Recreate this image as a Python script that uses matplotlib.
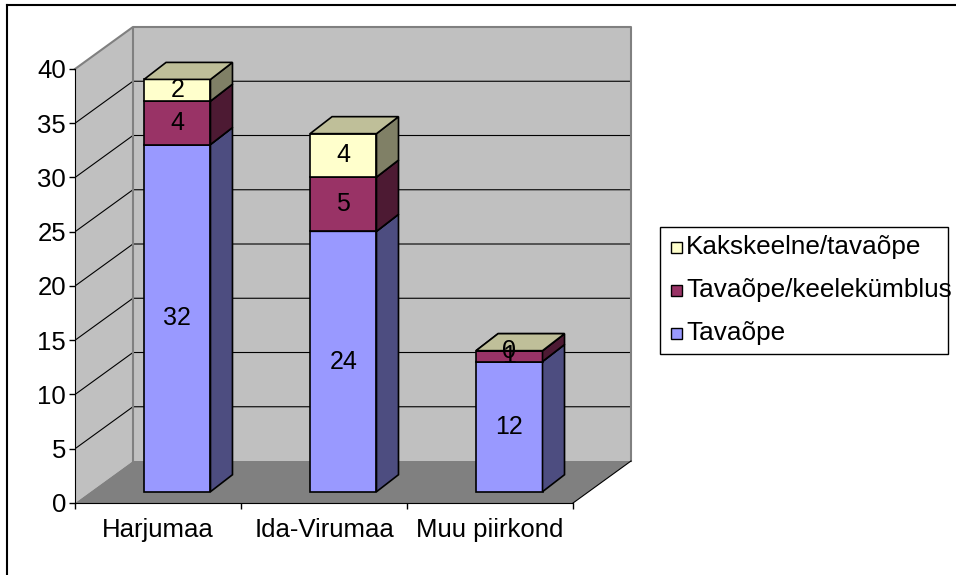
import matplotlib
matplotlib.use("Agg")
import matplotlib.pyplot as plt
from matplotlib.patches import Polygon, Rectangle
from matplotlib.lines import Line2D
from matplotlib.colors import to_rgb

plt.rcParams['font.family'] = ['Liberation Sans', 'DejaVu Sans']

categories = ["Harjumaa", "Ida-Virumaa", "Muu piirkond"]
series_names = ["Tavaõpe", "Tavaõpe/keelekümblus", "Kakskeelne/tavaõpe"]
tavaope = [32, 24, 12]
keelekymblus = [4, 5, 1]
kakskeelne = [2, 4, 0]
y_ticks = [0, 5, 10, 15, 20, 25, 30, 35, 40]

front_colors = ["#9999FF", "#993366", "#FFFFCC"]

W, H = 956, 575
fig = plt.figure(figsize=(W / 100, H / 100), dpi=100)


def fx(x):
    return x / W


def fy(y):
    return 1 - y / H


def shade(c, k):
    return tuple(v * k for v in to_rgb(c))


# plot box in pixels (front y-axis .. back right wall edge)
left_px, right_px, top_px, bottom_px = 75, 631, 27, 503
ax = fig.add_axes([fx(left_px), fy(bottom_px),
                   (right_px - left_px) / W, (bottom_px - top_px) / H])

ymax = y_ticks[-1]
ncat = len(categories)
wall_dx, wall_dy = 0.349, 3.87
ax.set_xlim(0, ncat + wall_dx)
ax.set_ylim(0, ymax + wall_dy)
ax.patch.set_visible(False)

wall_grey = "#C0C0C0"
edge_grey = "#808080"
# side wall, back wall, floor
ax.add_patch(Polygon([(0, 0), (wall_dx, wall_dy), (wall_dx, ymax + wall_dy), (0, ymax)],
                     fc=wall_grey, ec='none', zorder=0))
ax.add_patch(Rectangle((wall_dx, wall_dy), ncat, ymax, fc=wall_grey, ec='none', zorder=0))
ax.add_patch(Polygon([(0, 0), (ncat, 0), (ncat + wall_dx, wall_dy), (wall_dx, wall_dy)],
                     fc="#808080", ec='none', zorder=0))

for v in y_ticks[1:-1]:
    ax.plot([0, wall_dx, ncat + wall_dx], [v, v + wall_dy, v + wall_dy],
            color='black', lw=0.8, zorder=1)
ax.plot([0, wall_dx, ncat + wall_dx, ncat + wall_dx],
        [ymax, ymax + wall_dy, ymax + wall_dy, wall_dy],
        color=edge_grey, lw=1.5, zorder=1, clip_on=False)
ax.plot([wall_dx, wall_dx], [wall_dy, ymax + wall_dy], color=edge_grey, lw=1.5, zorder=1)
ax.plot([ncat, ncat + wall_dx], [0, wall_dy], color='black', lw=0.8, zorder=1, clip_on=False)

# 3D bars
bar_w = 0.4
off_x, off_y = 0.116, 1.04
deep_x, deep_y = 22 / 166, 17 / 10.85
stack = [tavaope, keelekymblus, kakskeelne]
for i in range(ncat):
    base = 0
    for s, vals in enumerate(stack):
        h = vals[i]
        x0 = i + 0.3 + off_x
        x1 = x0 + bar_w
        y0 = base + off_y
        y1 = y0 + h
        c = front_colors[s]
        kw = dict(ec='black', lw=1.2, zorder=3, joinstyle='miter')
        ax.add_patch(Rectangle((x0, y0), bar_w, h, fc=c, **kw))
        ax.add_patch(Polygon([(x1, y0), (x1 + deep_x, y0 + deep_y),
                              (x1 + deep_x, y1 + deep_y), (x1, y1)],
                             fc=shade(c, 0.5), **kw))
        ax.add_patch(Polygon([(x0, y1), (x1, y1), (x1 + deep_x, y1 + deep_y),
                              (x0 + deep_x, y1 + deep_y)],
                             fc=shade(c, 0.75), **kw))
        ax.text(x0 + bar_w / 2, y0 + h / 2, str(h), ha='center', va='center',
                fontsize=18, zorder=5)
        base += h

# axes
for sp in ['top', 'right']:
    ax.spines[sp].set_visible(False)
ax.spines['left'].set_bounds(0, ymax)
ax.spines['bottom'].set_bounds(0, ncat)
ax.spines['left'].set_zorder(2)
ax.spines['bottom'].set_zorder(2)
ax.set_yticks(y_ticks)
ax.tick_params(axis='y', direction='out', length=4.5, width=1, labelsize=18.5, pad=2)
ax.set_xticks(range(ncat + 1))
ax.set_xticklabels([])
ax.set_xticks([i + 0.5 for i in range(ncat)], minor=True)
ax.set_xticklabels(categories, minor=True)
ax.tick_params(axis='x', which='major', direction='out', length=4.5, width=1)
ax.tick_params(axis='x', which='minor', length=0, labelsize=18.5, pad=11)

# legend (drawn in figure pixels)
fig.add_artist(Rectangle((fx(660), fy(354)), fx(948) - fx(660), fy(227) - fy(354),
                         transform=fig.transFigure, fc='white', ec='black', lw=1))
rows_y = [247, 290, 333]
for row, s in zip(rows_y, [2, 1, 0]):
    fig.add_artist(Rectangle((fx(671), fy(row + 6)), 11 / W, 11 / H,
                             transform=fig.transFigure, fc=front_colors[s],
                             ec='black', lw=1))
    fig.text(fx(686), fy(row), series_names[s], fontsize=18.8, va='center', ha='left')

# outer frame
fig.add_artist(Line2D([fx(7), 1], [fy(5), fy(5)], transform=fig.transFigure,
                      color='black', lw=1.5))
fig.add_artist(Line2D([fx(7), fx(7)], [fy(5), 0], transform=fig.transFigure,
                      color='black', lw=1.5))

fig.savefig("out.png", dpi=100)
